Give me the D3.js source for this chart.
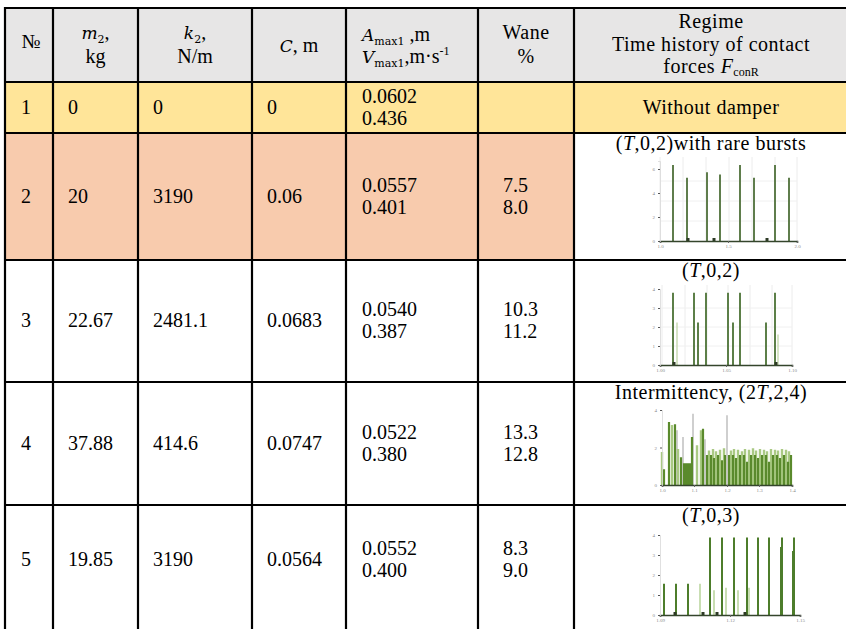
<!DOCTYPE html>
<html><head><meta charset="utf-8">
<script src="https://cdn.jsdelivr.net/npm/d3@7"></script>
<style>html,body{margin:0;padding:0;background:#fff;} svg{display:block;} svg text{font-family:"Liberation Serif","Times New Roman",serif;}</style>
</head><body>
<svg id="tbl" width="846" height="629"></svg>
<script>
// ---- table values ----
const rowNo   = ["1", "2", "3", "4", "5"];
const massM2  = ["0", "20", "22.67", "37.88", "19.85"];
const stiffK2 = ["0", "3190", "2481.1", "414.6", "3190"];
const clearC  = ["0", "0.06", "0.0683", "0.0747", "0.0564"];
const aMax1   = ["0.0602", "0.0557", "0.0540", "0.0522", "0.0552"];
const vMax1   = ["0.436", "0.401", "0.387", "0.380", "0.400"];
const waneA   = ["", "7.5", "10.3", "13.3", "8.3"];
const waneV   = ["", "8.0", "11.2", "12.8", "9.0"];
const regimes = ["Without damper", "(T,0,2)with rare bursts", "(T,0,2)",
                 "Intermittency, (2T,2,4)", "(T,0,3)"];
const rowFill = ["#FFE599", "#F8CBAD", "#FFFFFF", "#FFFFFF", "#FFFFFF"];

// ---- contact force histories (time, force) for rows 2-5 ----
const r2Time  = [13, 27, 47, 60, 80, 94, 115, 129];
const r2Force = [95, 79, 86, 83, 95, 79, 95, 79];
const r2DotT  = [28, 54, 107];

const r3Time   = [13, 34, 38, 46, 68, 73, 80, 106, 115];
const r3Force  = [95, 95, 56, 95, 95, 56, 95, 56, 95];
const r3LightT = [17, 118];
const r3LightF = [56, 40];
const r3DotT   = [14, 116];

const r4DarkT  = [2, 7, 13, 19, 22, 24, 26, 28, 30, 41, 45, 49, 52, 56, 60, 63, 67, 71, 74, 78, 82, 85, 89, 93, 96, 100, 104, 107, 111, 115, 118, 122, 126, 129];
const r4DarkF  = [21, 84, 81, 37, 29, 29, 29, 29, 64, 75, 40, 40, 36, 40, 33, 40, 40, 40, 36, 40, 40, 31, 40, 40, 36, 40, 40, 31, 40, 40, 36, 40, 31, 40];
const r4LightT = [0, 10, 16, 35, 39, 47, 51, 54, 58, 62, 69, 72, 76, 80, 83, 87, 91, 94, 98, 102, 105, 109, 113, 116, 120, 124, 127];
const r4LightF = [44, 80, 48, 53, 73, 46, 48, 45, 47, 49, 46, 48, 47, 45, 48, 47, 49, 46, 48, 47, 45, 48, 47, 46, 48, 47, 45];
const r4GrayT  = [15, 21, 31, 43, 65];
const r4GrayF  = [73, 64, 95, 61, 93];

const r5DarkT  = [4, 16, 28, 50, 62, 74, 87, 98, 109, 121, 122, 133, 134];
const r5DarkF  = [39, 39, 39, 97, 97, 97, 97, 97, 97, 85, 97, 80, 97];
const r5LightT = [40, 54, 66, 78, 89];
const r5LightF = [39, 31, 34, 31, 34];
const r5DotT   = [15, 43, 57, 85];

const tickLabels = {
  r2: {x: [0, 68, 137], xl: ["1.0", "1.5", "2.0"], y: [0, 30, 60, 90], yl: ["0", "2", "4", "6"]},
  r3: {x: [0, 66, 132], xl: ["1.00", "1.05", "1.10"], y: [0, 25, 50, 75, 100], yl: ["0", "1", "2", "3", "4"]},
  r4: {x: [0, 32, 65, 97, 130], xl: ["1.0", "1.1", "1.2", "1.3", "1.4"], y: [0, 50, 100], yl: ["0", "2", "4"]},
  r5: {x: [0, 70, 140], xl: ["1.09", "1.12", "1.15"], y: [0, 25, 50, 75, 100], yl: ["0", "1", "2", "3", "4"]}
};

// ---- layout ----
const W = 846, H = 629;
const colEdges = [5, 53, 138, 252, 346, 478, 574, 848];
const rowEdges = [8, 82, 133, 260, 382, 505, 660];
const mathF = "DejaVu Serif";

const svg = d3.select("#tbl");

// backgrounds
svg.append("rect").attr("x", colEdges[0]).attr("y", rowEdges[0])
  .attr("width", colEdges[7] - colEdges[0]).attr("height", rowEdges[1] - rowEdges[0])
  .attr("fill", "#E7E6E6");
rowFill.forEach((f, i) => {
  const right = i === 1 ? colEdges[6] : colEdges[7];
  svg.append("rect").attr("x", colEdges[0]).attr("y", rowEdges[i + 1])
    .attr("width", right - colEdges[0]).attr("height", rowEdges[i + 2] - rowEdges[i + 1])
    .attr("fill", f);
});

// ---- header ----
const hdr = svg.append("g").attr("font-size", 20).attr("fill", "#000");
function cx(c) { return (colEdges[c] + colEdges[c + 1]) / 2; }

hdr.append("text").attr("x", cx(0) + 2).attr("y", 48).attr("text-anchor", "middle").text("№");

function mathHead(x, y, letter, sub, tail, anchor) {
  const t = hdr.append("text").attr("x", x).attr("y", y).attr("text-anchor", anchor || "middle");
  t.append("tspan").style("font-family", mathF).attr("font-style", "italic").attr("font-size", 17).text(letter);
  if (sub) t.append("tspan").style("font-family", mathF).attr("font-size", 11).attr("dy", 4).text(sub);
  t.append("tspan").attr("dy", sub ? -4 : 0).text(tail);
  return t;
}
mathHead(cx(1), 39, "m", "2", ",");
hdr.append("text").attr("x", cx(1)).attr("y", 63).attr("text-anchor", "middle").text("kg");
mathHead(cx(2), 39, "k", "2", ",");
hdr.append("text").attr("x", cx(2)).attr("y", 63).attr("text-anchor", "middle").text("N/m");
mathHead(cx(3), 52, "C", null, ", m");
mathHead(362, 41, "A", "max1", " ,m", "start");
const vh = mathHead(362, 63, "V", "max1", ",m·s", "start");
vh.append("tspan").attr("font-size", 12).attr("dy", -8).text("-1");

const wh = hdr.append("g").attr("letter-spacing", 0.5);
wh.append("text").attr("x", cx(5)).attr("y", 39).attr("text-anchor", "middle").text("Wane");
wh.append("text").attr("x", cx(5)).attr("y", 63).attr("text-anchor", "middle").text("%");
wh.append("text").attr("x", cx(6)).attr("y", 28).attr("text-anchor", "middle").text("Regime");
wh.append("text").attr("x", cx(6)).attr("y", 51).attr("text-anchor", "middle").text("Time history of contact");
const ft = wh.append("text").attr("x", cx(6)).attr("y", 73).attr("text-anchor", "middle");
ft.append("tspan").text("forces ");
ft.append("tspan").attr("font-style", "italic").text("F");
ft.append("tspan").attr("font-size", 12).attr("dy", 3).attr("letter-spacing", 0).text("conR");

// ---- body rows ----
const body = svg.append("g").attr("font-size", 20).attr("fill", "#000");
function rowMid(i) {
  const top = rowEdges[i + 1];
  return i === 4 ? top + 55 : (top + rowEdges[i + 2]) / 2;
}
const singleCols = [[rowNo, 21], [massM2, 68], [stiffK2, 153], [clearC, 267]];
rowNo.forEach((_, i) => {
  const m = rowMid(i);
  singleCols.forEach(([arr, x]) => {
    body.append("text").attr("x", x).attr("y", m + 6).text(arr[i]);
  });
  body.append("text").attr("x", 362).attr("y", m - 5).text(aMax1[i]);
  body.append("text").attr("x", 362).attr("y", m + 17).text(vMax1[i]);
  if (waneA[i]) {
    body.append("text").attr("x", 503).attr("y", m - 5).text(waneA[i]);
    body.append("text").attr("x", 503).attr("y", m + 17).text(waneV[i]);
  }
  // regime caption, italic period symbol T
  const isTitle = i > 0;
  const ty = isTitle ? rowEdges[i + 1] + 17 : m + 6;
  const t = body.append("text").attr("x", cx(6)).attr("y", ty)
    .attr("text-anchor", "middle").attr("letter-spacing", 0.5);
  regimes[i].split(/(T)/).forEach(part => {
    if (!part) return;
    const s = t.append("tspan").text(part);
    if (part === "T" && isTitle) s.attr("font-style", "italic");
  });
});

// ---- miniature force histories ----
function mini(o) {
  const g = svg.append("g");
  const x = d3.scaleLinear().domain(o.xd).range([o.x0, o.x1]);
  const y = d3.scaleLinear().domain([0, 100]).range([o.base, o.top]);
  const tk = o.ticks;
  if (o.grid) {
    g.append("g").selectAll("line").data(o.grid).join("line")
      .attr("x1", d => x(d)).attr("x2", d => x(d)).attr("y1", o.top - 4).attr("y2", o.base)
      .attr("stroke", "#ececec").attr("stroke-width", 1);
    g.append("g").selectAll("line").data([25, 50, 75]).join("line")
      .attr("x1", o.x0).attr("x2", o.x1).attr("y1", d => y(d)).attr("y2", d => y(d))
      .attr("stroke", "#f0f0f0").attr("stroke-width", 1);
  }
  o.series.forEach(s => {
    g.append("g").selectAll("line").data(s.t).join("line")
      .attr("x1", d => x(d)).attr("x2", d => x(d))
      .attr("y1", y(0)).attr("y2", (d, k) => y(s.v[k]))
      .attr("stroke", s.c).attr("stroke-width", s.w);
  });
  if (o.dots) {
    g.append("g").selectAll("rect").data(o.dots).join("rect")
      .attr("x", d => x(d) - 1.5).attr("y", o.base - 3).attr("width", 3).attr("height", 3)
      .attr("fill", "#2d3a25");
  }
  const xa = g.append("g").attr("transform", `translate(0,${o.base})`)
    .call(d3.axisBottom(x).tickValues(tk.x).tickFormat((d, k) => tk.xl[k]).tickSize(2).tickPadding(1));
  xa.select(".domain").attr("stroke", "#34452c").attr("stroke-width", 1.6);
  xa.selectAll(".tick line").attr("stroke", "#666");
  xa.selectAll("text").attr("font-size", 5).attr("fill", "#8a8a8a");
  const ya = g.append("g").attr("transform", `translate(${o.x0},0)`)
    .call(d3.axisLeft(y).tickValues(tk.y).tickFormat((d, k) => tk.yl[k]).tickSize(2).tickPadding(3));
  ya.select(".domain").attr("stroke", "#d8d8d8").attr("stroke-width", 0.8);
  ya.selectAll(".tick line").attr("stroke", "#555");
  ya.selectAll("text").attr("font-size", 5).attr("fill", "#888");
  // d3 axes set a sans-serif family on their group; keep the table's serif face
  g.selectAll("g").attr("font-family", null);
}

mini({x0: 660, x1: 797, base: 241, top: 161, xd: [0, 137], ticks: tickLabels.r2,
  grid: [0, 23, 46, 69, 92, 115, 137],
  series: [{t: r2Time, v: r2Force, c: "#5f7d4c", w: 2}], dots: r2DotT});
mini({x0: 660, x1: 792, base: 365, top: 289, xd: [0, 132], ticks: tickLabels.r3,
  grid: [2, 25, 47, 68, 90, 112, 132],
  series: [{t: r3LightT, v: r3LightF, c: "#c9dbb3", w: 1.5},
           {t: r3Time, v: r3Force, c: "#5c7f48", w: 2}], dots: r3DotT});
mini({x0: 662, x1: 792, base: 485, top: 410, xd: [0, 130], ticks: tickLabels.r4,
  series: [{t: r4GrayT, v: r4GrayF, c: "#cfcfcf", w: 2},
           {t: r4LightT, v: r4LightF, c: "#a9c983", w: 2.4},
           {t: r4DarkT, v: r4DarkF, c: "#5a8a2c", w: 2.2}]});
mini({x0: 660, x1: 800, base: 615, top: 535, xd: [0, 140], ticks: tickLabels.r5,
  series: [{t: r5LightT, v: r5LightF, c: "#bcd6a0", w: 1.6},
           {t: r5DarkT, v: r5DarkF, c: "#4d7d2b", w: 2}], dots: r5DotT});

// ---- grid lines of the table ----
const rules = svg.append("g").attr("stroke", "#000").attr("stroke-width", 2.2);
rowEdges.slice(0, 6).forEach(yv => {
  rules.append("line").attr("x1", colEdges[0] - 1).attr("x2", W).attr("y1", yv).attr("y2", yv);
});
colEdges.forEach(xv => {
  rules.append("line").attr("x1", xv).attr("x2", xv).attr("y1", rowEdges[0] - 1).attr("y2", H);
});
</script></body></html>
